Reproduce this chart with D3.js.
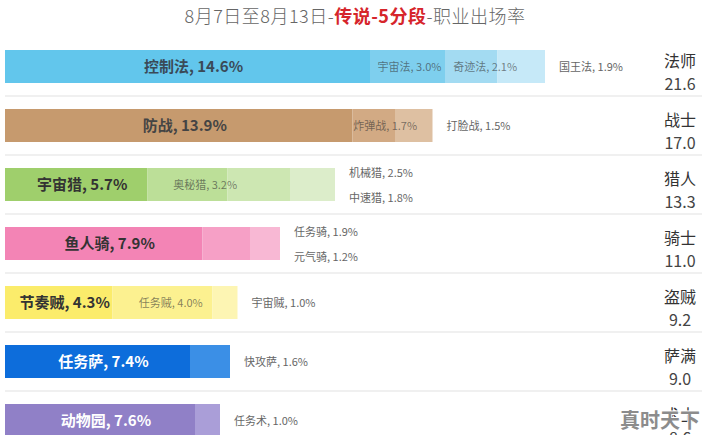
<!DOCTYPE html>
<html><head><meta charset="utf-8">
<script src="https://cdn.jsdelivr.net/npm/d3@7/dist/d3.min.js"></script>
<style>body{margin:0;background:#fff}svg{display:block}</style>
</head><body><svg id="c" width="710" height="435"></svg>
<script>
const classes = ["法师","战士","猎人","骑士","盗贼","萨满","术士"];
const classTotals = ["21.6","17.0","13.3","11.0","9.2","9.0","8.6"];
const deckNames = [
  ["控制法","宇宙法","奇迹法","国王法"],
  ["防战","炸弹战","打脸战"],
  ["宇宙猎","奥秘猎","机械猎","中速猎"],
  ["鱼人骑","任务骑","元气骑"],
  ["节奏贼","任务贼","宇宙贼"],
  ["任务萨","快攻萨"],
  ["动物园","任务术"]
];
const deckShares = [
  [14.6,3.0,2.1,1.9],
  [13.9,1.7,1.5],
  [5.7,3.2,2.5,1.8],
  [7.9,1.9,1.2],
  [4.3,4.0,1.0],
  [7.4,1.6],
  [7.6,1.0]
];
const labelInside = [
  [true,true,true,false],
  [true,true,false],
  [true,true,false,false],
  [true,false,false],
  [true,true,false],
  [true,false],
  [true,false]
];
const titleParts = [["8月7日至8月13日-",false],["传说-5分段",true],["-职业出场率",false]];
const watermark = "真时天下";

const palette = [
  ["#62c6ec","#7ecfee","#a3dbf2","#c6e9f8"],
  ["#c69a6e","#d2aa84","#dec0a2"],
  ["#9fcf6c","#bcdf98","#cde7b2","#dcedca"],
  ["#f384b5","#f6a0c6","#f8b8d4"],
  ["#fbec6b","#fcf190","#fdf5b3"],
  ["#0d6ddb","#3b8fe6"],
  ["#9080c7","#aa9ed8"]
];
const mainTextColor = ["#3a4a58","#444","#333","#333","#333","#fff","#fff"];

const FONT = "'Noto Sans CJK SC','Noto Sans',sans-serif";
const svg = d3.select("#c").style("font-family", FONT);

const sums = deckShares.map(a => d3.sum(a));
const x = d3.scaleLinear().domain([0, d3.max(sums)]).range([5, 545]);
const y = d3.scaleBand().domain(classes).range([50, 437]).paddingInner(26/59).paddingOuter(0);
const bw = y.bandwidth();

// title
const title = svg.append("text").attr("x", 355).attr("y", 23).attr("text-anchor","middle")
  .attr("font-size", 18).attr("letter-spacing", 0.5).attr("font-weight", 300);
titleParts.forEach(([t, hi]) => {
  title.append("tspan").text(t).attr("fill", hi ? "#d6252b" : "#666")
    .attr("font-weight", hi ? "bold" : 300);
});

// separators
classes.slice(0, -1).forEach(c => {
  const yy = y(c) + bw + 13;
  svg.append("line").attr("x1",5).attr("x2",702).attr("y1",yy).attr("y2",yy)
    .attr("stroke","#ebebeb").attr("stroke-width",1.5);
});

classes.forEach((c, i) => {
  const g = svg.append("g");
  const shares = deckShares[i];
  const starts = [];
  let acc = 0;
  shares.forEach(v => { starts.push(acc); acc += v; });
  const top = y(c);

  g.selectAll("rect").data(shares).join("rect")
    .attr("x", (d, j) => x(starts[j]))
    .attr("width", (d, j) => x(starts[j] + d) - x(starts[j]))
    .attr("y", top).attr("height", bw)
    .attr("fill", (d, j) => palette[i][j]);

  const outside = [];
  shares.forEach((v, j) => {
    const lbl = deckNames[i][j] + ", " + v.toFixed(1) + "%";
    if (j === 0) {
      g.append("text").attr("x", (x(0) + x(v)) / 2 + 6).attr("y", top + bw/2 + 5)
        .attr("text-anchor","middle").attr("font-size",15).attr("font-weight","bold")
        .attr("fill", mainTextColor[i]).text(lbl);
    } else if (labelInside[i][j]) {
      let end = starts[j] + v;
      if (j + 1 < shares.length && !labelInside[i][j + 1]) end += shares[j + 1] / 2;
      g.append("text").attr("x", (x(starts[j]) + x(end)) / 2 + 2).attr("y", top + bw/2 + 4)
        .attr("text-anchor","middle").attr("font-size",11)
        .attr("fill", "#333").attr("fill-opacity", 0.6).text(lbl);
    } else {
      outside.push(lbl);
    }
  });
  const ox = x(acc) + 14;
  if (outside.length === 1) {
    g.append("text").attr("x", ox).attr("y", top + bw/2 + 4)
      .attr("font-size",11).attr("fill","#666").text(outside[0]);
  } else {
    outside.forEach((t, k) => {
      g.append("text").attr("x", ox).attr("y", top + 9 + k * 25)
        .attr("font-size",11).attr("fill","#666").text(t);
    });
  }

  // right class label
  g.append("text").attr("x", 680).attr("y", top + 17).attr("text-anchor","middle")
    .attr("font-size",16).attr("fill","#333").text(c);
  g.append("text").attr("x", 680).attr("y", top + 40).attr("text-anchor","middle")
    .attr("font-size",16).attr("fill","#444").text(classTotals[i]);
});

// watermark
svg.append("text").attr("x", 660).attr("y", 428).attr("text-anchor","middle")
  .attr("font-size",20).attr("font-weight","bold")
  .attr("fill","#8c8c8c").attr("stroke","#fff").attr("stroke-width",2).attr("paint-order","stroke")
  .text(watermark);
</script></body></html>
